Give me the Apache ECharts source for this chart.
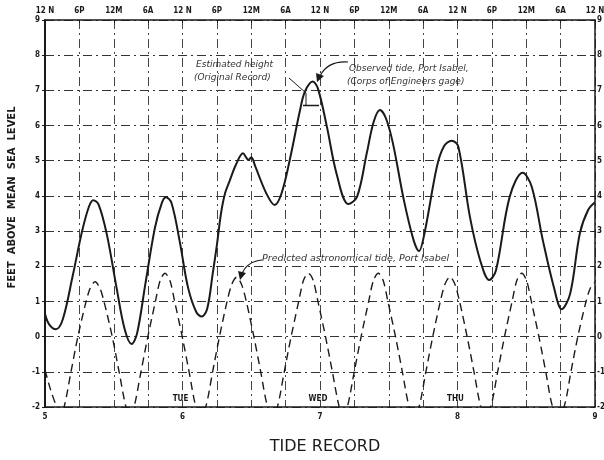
<!DOCTYPE html>
<html>
<head>
<meta charset="utf-8">
<title>Tide record</title>
<script src="https://cdn.jsdelivr.net/npm/echarts@6/dist/echarts.min.js"></script>
<style>
  html, body { margin: 0; padding: 0; background: #fff; }
  #main { width: 604px; height: 460px; }
</style>
</head>
<body>
<div id="main"></div>
<script>
// observed tide, Port Isabel (day of month, feet)
var observedTide = [
  [5.0, 0.65], [5.03, 0.35], [5.08, 0.21], [5.13, 0.5], [5.2, 1.7], [5.27, 3.0],
  [5.32, 3.7], [5.351, 3.88], [5.39, 3.75], [5.45, 2.9], [5.52, 1.4], [5.58, 0.2],
  [5.63, -0.21], [5.67, 0.1], [5.73, 1.5], [5.8, 3.1], [5.85, 3.8], [5.88, 3.96],
  [5.92, 3.8], [5.98, 2.7], [6.04, 1.4], [6.1, 0.7], [6.14, 0.57], [6.18, 0.8],
  [6.22, 1.8], [6.25, 2.6], [6.28, 3.5], [6.31, 4.08], [6.345, 4.45], [6.39, 4.9],
  [6.44, 5.21], [6.465, 5.08], [6.48, 5.02], [6.5, 5.1], [6.53, 4.83], [6.61, 4.07],
  [6.67, 3.74], [6.72, 4.07], [6.78, 5.02], [6.855, 6.44], [6.89, 6.96], [6.947, 7.25],
  [6.985, 7.05], [7.05, 5.97], [7.12, 4.64], [7.206, 3.77], [7.27, 3.98], [7.34, 5.21],
  [7.39, 6.1], [7.436, 6.44], [7.48, 6.2], [7.53, 5.5], [7.61, 3.88], [7.68, 2.75],
  [7.72, 2.43], [7.76, 2.94], [7.85, 4.83], [7.9, 5.4], [7.958, 5.57], [8.006, 5.4],
  [8.09, 3.41], [8.164, 2.18], [8.231, 1.61], [8.28, 1.89], [8.38, 3.98], [8.474, 4.66],
  [8.54, 4.26], [8.62, 2.75], [8.7, 1.42], [8.758, 0.78], [8.82, 1.23], [8.89, 2.94],
  [8.95, 3.6], [9.0, 3.82]
];

// predicted astronomical tide (troughs run below the chart floor)
var predictedTide = [
  [5.0, -0.95], [5.04, -1.5], [5.085, -2.0], [5.11, -2.2],
  [5.139, -2.0], [5.189, -1.0], [5.239, 0.0], [5.299, 1.0], [5.329, 1.38], [5.364, 1.56],
  [5.399, 1.38], [5.429, 1.0], [5.489, 0.0], [5.539, -1.0], [5.589, -2.0], [5.62, -2.25],
  [5.648, -2.0], [5.698, -1.0], [5.748, 0.0], [5.803, 1.0], [5.838, 1.6], [5.873, 1.8],
  [5.908, 1.6], [5.943, 1.0], [5.998, 0.0], [6.048, -1.0], [6.098, -2.0], [6.134, -2.2],
  [6.169, -2.0], [6.219, -1.0], [6.269, 0.0], [6.324, 1.0], [6.359, 1.49], [6.394, 1.69],
  [6.429, 1.49], [6.464, 1.0], [6.519, 0.0], [6.569, -1.0], [6.619, -2.0], [6.655, -2.2],
  [6.69, -2.0], [6.74, -1.0], [6.79, 0.0], [6.845, 1.0], [6.88, 1.6], [6.915, 1.8],
  [6.95, 1.6], [6.985, 1.0], [7.04, 0.0], [7.09, -1.0], [7.14, -2.0], [7.17, -2.2],
  [7.199, -2.0], [7.249, -1.0], [7.299, 0.0], [7.354, 1.0], [7.389, 1.6], [7.424, 1.8],
  [7.459, 1.6], [7.494, 1.0], [7.549, 0.0], [7.599, -1.0], [7.649, -2.0], [7.685, -2.2],
  [7.72, -2.0], [7.77, -1.0], [7.82, 0.0], [7.875, 1.0], [7.91, 1.5], [7.945, 1.7],
  [7.98, 1.5], [8.015, 1.0], [8.07, 0.0], [8.12, -1.0], [8.17, -2.0], [8.206, -2.2],
  [8.242, -2.0], [8.292, -1.0], [8.342, 0.0], [8.397, 1.0], [8.432, 1.6], [8.467, 1.8],
  [8.502, 1.6], [8.537, 1.0], [8.592, 0.0], [8.642, -1.0], [8.692, -2.0], [8.734, -2.2],
  [8.775, -2.0], [8.825, -1.0], [8.875, 0.0], [8.935, 1.0], [8.965, 1.37], [9.0, 1.55]
];

// hour labels along the top, every 6 hours
var hourLabels = ["12 N", "6P", "12M", "6A"];
// weekday labels sitting at the day lines
var dayNames = ["TUE", "WED", "THU"];
var dayValues = [6, 7, 8];

var ink = "#1a1a1a";
var labelFont = "DejaVu Sans Condensed";
var dashDot = [9, 4, 2, 4];

var myChart = echarts.init(document.getElementById("main"));

// weekday labels are placed through the axis scales after init
function dayGraphics() {
  var out = [];
  for (var i = 0; i < dayNames.length; i++) {
    var p = myChart.convertToPixel({ gridIndex: 0 }, [dayValues[i], -2]);
    out.push({
      type: "text",
      x: p[0] - 2,
      y: p[1] - 4,
      style: {
        text: dayNames[i], fill: ink, font: "bold 8px " + labelFont,
        textAlign: "center", textVerticalAlign: "bottom"
      }
    });
  }
  return out;
}

myChart.setOption({
  animation: false,
  backgroundColor: "#fff",
  title: {
    text: "TIDE RECORD",
    left: 320,
    textAlign: "center",
    top: 434,
    textStyle: { fontFamily: "DejaVu Sans", fontSize: 16, fontWeight: "normal", color: ink }
  },
  grid: { left: 45, right: 9, top: 20, bottom: 53, outerBoundsMode: "none" },
  xAxis: [
    {
      type: "value", min: 5, max: 9, interval: 1, position: "bottom",
      axisLine: { show: true, onZero: false, lineStyle: { color: ink, width: 1.5 } },
      axisTick: { show: false },
      axisLabel: { color: ink, fontFamily: labelFont, fontWeight: "bold", fontSize: 8, margin: 6 },
      splitLine: { show: false }
    },
    {
      type: "value", min: 5, max: 9, interval: 0.25, position: "top",
      axisLine: { show: true, onZero: false, lineStyle: { color: ink, width: 1.5 } },
      axisTick: { show: true, inside: true, length: 3, lineStyle: { color: ink } },
      axisLabel: {
        color: ink, fontFamily: labelFont, fontWeight: "bold", fontSize: 8, margin: 5,
        formatter: function (v) {
          return hourLabels[Math.round((v - 5) * 4) % 4];
        }
      },
      splitLine: { show: true, lineStyle: { color: "#444", width: 1, type: dashDot } }
    }
  ],
  yAxis: [
    {
      type: "value", min: -2, max: 9, interval: 1, position: "left",
      name: "FEET  ABOVE  MEAN  SEA  LEVEL",
      nameLocation: "middle",
      nameGap: 28,
      nameTextStyle: { color: ink, fontFamily: "DejaVu Sans", fontWeight: "bold", fontSize: 10, padding: [0, 0, 0, 32] },
      axisLine: { show: true, onZero: false, lineStyle: { color: ink, width: 2 } },
      axisTick: { show: true, length: 3, lineStyle: { color: ink } },
      axisLabel: { color: ink, fontFamily: labelFont, fontWeight: "bold", fontSize: 8, margin: 5 },
      splitLine: { show: true, lineStyle: { color: "#333", width: 1, type: dashDot } }
    },
    {
      type: "value", min: -2, max: 9, interval: 1, position: "right",
      axisLine: { show: true, onZero: false, lineStyle: { color: ink, width: 1.5 } },
      axisTick: { show: true, inside: true, length: 3, lineStyle: { color: ink } },
      axisLabel: { color: ink, fontFamily: labelFont, fontWeight: "bold", fontSize: 8, margin: 2 },
      splitLine: { show: false }
    }
  ],
  series: [
    {
      name: "Observed tide",
      type: "line",
      data: observedTide,
      smooth: 0.35,
      symbol: "none",
      clip: true,
      lineStyle: { color: ink, width: 2 }
    },
    {
      name: "Predicted astronomical tide",
      type: "line",
      data: predictedTide,
      smooth: 0.3,
      symbol: "none",
      clip: true,
      lineStyle: { color: ink, width: 1.4, type: [8, 5] }
    }
  ]
});

var notes = [
  // estimated height note
  { type: "text", x: 196, y: 65, style: { text: "Estimated height", fill: "#333", font: "italic 9px DejaVu Sans", textVerticalAlign: "middle" } },
  { type: "text", x: 194, y: 78, style: { text: "(Original Record)", fill: "#333", font: "italic 9px DejaVu Sans", textVerticalAlign: "middle" } },
  { type: "polyline", shape: { points: [[289, 78], [306, 93], [306, 105]] }, style: { stroke: ink, lineWidth: 1, fill: null } },
  { type: "line", shape: { x1: 303, y1: 105.5, x2: 319, y2: 105.5 }, style: { stroke: ink, lineWidth: 1.5 } },
  // observed tide note
  { type: "text", x: 349, y: 69, style: { text: "Observed tide, Port Isabel,", fill: "#333", font: "italic 9px DejaVu Sans", textVerticalAlign: "middle" } },
  { type: "text", x: 347, y: 82, style: { text: "(Corps of Engineers gage)", fill: "#333", font: "italic 9px DejaVu Sans", textVerticalAlign: "middle" } },
  { type: "bezierCurve", shape: { x1: 348, y1: 62, cpx1: 332, cpy1: 61, cpx2: 324, cpy2: 68, x2: 320, y2: 76 }, style: { stroke: ink, lineWidth: 1.2, fill: null } },
  { type: "polygon", shape: { points: [[317, 82], [316, 73], [324, 76]] }, style: { fill: ink } },
  // predicted tide note
  { type: "text", x: 262, y: 259, style: { text: "Predicted astronomical tide, Port Isabel", fill: "#333", font: "italic 9.5px DejaVu Sans", textVerticalAlign: "middle" } },
  { type: "bezierCurve", shape: { x1: 262, y1: 260, cpx1: 252, cpy1: 261, cpx2: 245, cpy2: 266, x2: 242, y2: 274 }, style: { stroke: ink, lineWidth: 1.2, fill: null } },
  { type: "polygon", shape: { points: [[240, 280], [238, 271], [246, 273]] }, style: { fill: ink } }
];

myChart.setOption({ graphic: notes.concat(dayGraphics()) });
</script>
</body>
</html>
